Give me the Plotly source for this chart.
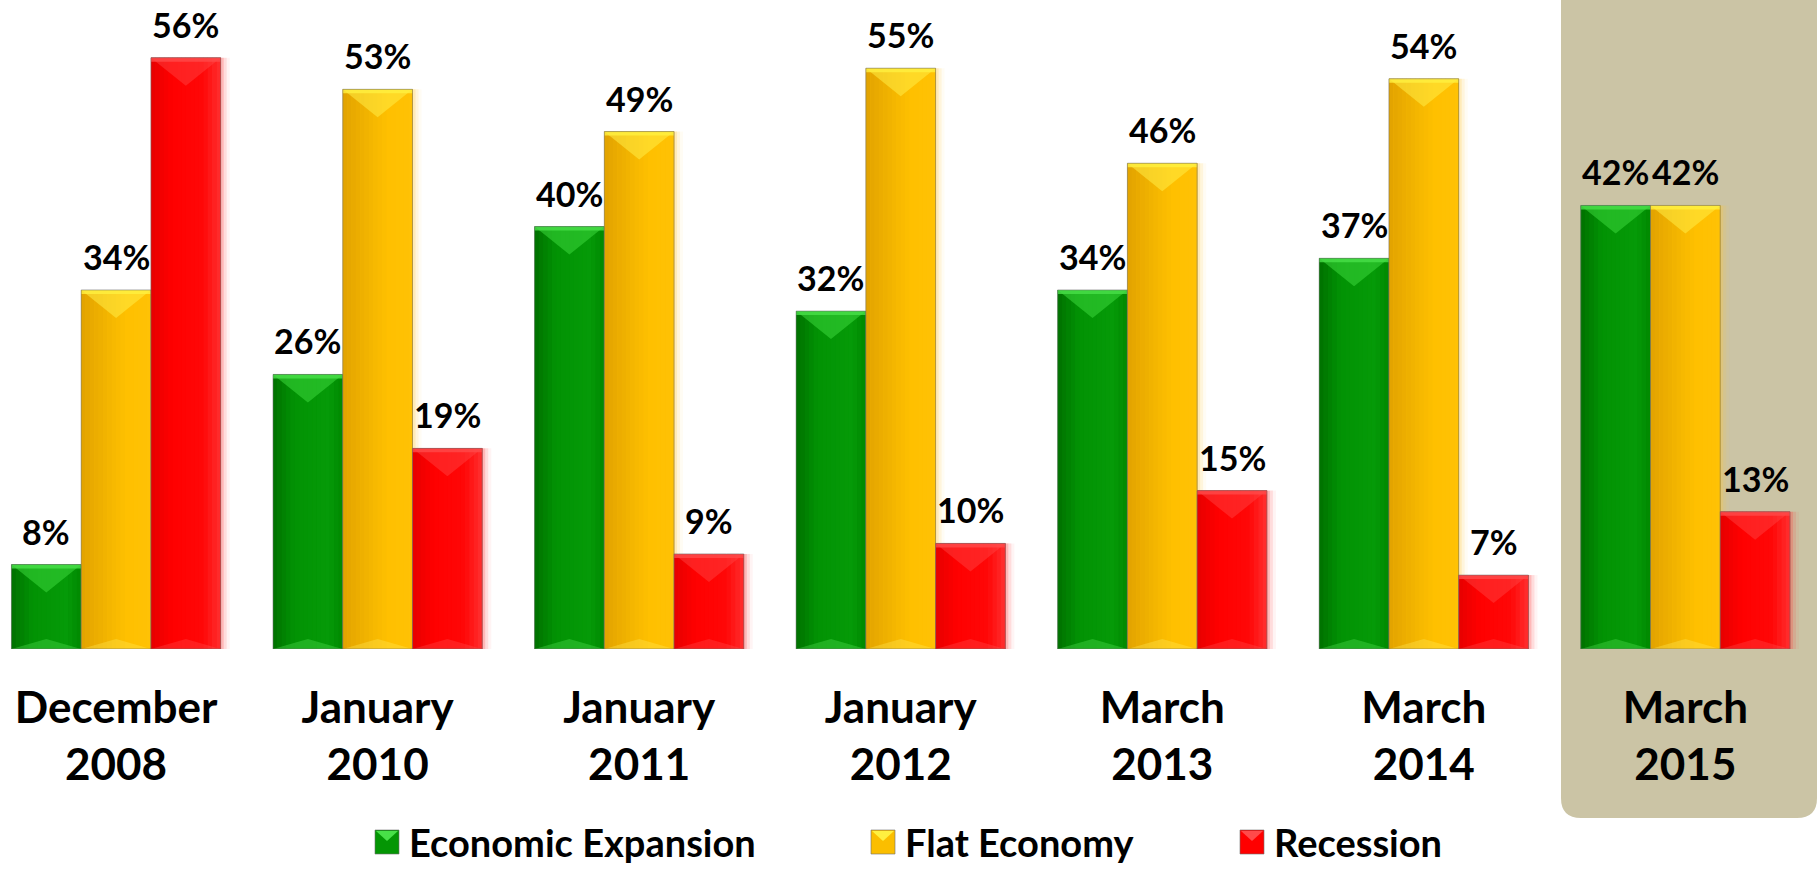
import plotly.graph_objects as go

# Survey results: outlook on the economy, by survey date
periods = ["December<br>2008", "January<br>2010", "January<br>2011", "January<br>2012",
           "March<br>2013", "March<br>2014", "March<br>2015"]
expansion = [8, 26, 40, 32, 34, 37, 42]
flat = [34, 53, 49, 55, 46, 54, 42]
recession = [56, 19, 9, 10, 15, 7, 13]
series_names = ["Economic Expansion", "Flat Economy", "Recession"]

W, H = 1820, 869
BASE_PX = 649            # pixel row of the zero line
PX_PER_PCT = 10.56
PX_PER_CAT = 261.55
X0 = -116.07 / PX_PER_CAT
X_RANGE = [X0, X0 + W / PX_PER_CAT]
Y_RANGE = [0, BASE_PX / PX_PER_PCT]

BAR_W = 0.8 / 3
OFFSETS = [-0.4, -0.4 + BAR_W, -0.4 + 2 * BAR_W]

FONT = "Lato, 'Open Sans', sans-serif"

# colour profile across each bar (position 0..1 left to right)
profiles = [
    [(0.0, (0, 112, 0)), (0.3, (2, 146, 4)), (0.8, (5, 154, 8)), (1.0, (0, 136, 0))],
    [(0.0, (226, 162, 0)), (0.45, (246, 184, 0)), (0.65, (255, 192, 0)), (1.0, (255, 194, 6))],
    [(0.0, (230, 0, 0)), (0.3, (255, 0, 0)), (0.75, (255, 8, 8)), (1.0, (255, 48, 48))],
]
base_colors = ["#049604", "#FBBE00", "#FF0000"]
top_band = ["#48E048", "#FFF040", "#FF4A4A"]
top_tri = ["rgba(60,215,60,0.55)", "rgba(255,236,70,0.55)", "rgba(255,70,70,0.45)"]
bot_band = ["rgba(90,230,90,0.7)", "rgba(255,235,90,0.7)", "rgba(255,90,90,0.6)"]
glow = ["rgba(0,150,0,{a})", "rgba(255,200,60,{a})", "rgba(255,60,60,{a})"]


def interp(profile, t):
    for (p0, c0), (p1, c1) in zip(profile, profile[1:]):
        if p0 <= t <= p1:
            f = (t - p0) / (p1 - p0) if p1 > p0 else 0
            return "rgb({},{},{})".format(*[round(a + (b - a) * f) for a, b in zip(c0, c1)])
    return "rgb({},{},{})".format(*profile[-1][1])


fig = go.Figure()
all_values = [expansion, flat, recession]

for s, (name, vals) in enumerate(zip(series_names, all_values)):
    fig.add_trace(go.Bar(
        x=list(range(len(periods))), y=vals, name=name,
        width=BAR_W, offset=OFFSETS[s],
        marker=dict(color=base_colors[s], line=dict(width=0)),
        showlegend=False, hoverinfo="name+y",
    ))

shapes = []
# highlight panel behind the latest survey
px = lambda v: v / W
py = lambda v: (BASE_PX - v) / BASE_PX
bx0, bx1, by1, r = 1561, 1817, 818, 20
shapes.append(dict(
    type="path", xref="paper", yref="paper", layer="below", line=dict(width=0),
    fillcolor="#CBC4A5",
    path=(f"M {px(bx0)},{py(-10)} L {px(bx1)},{py(-10)} L {px(bx1)},{py(by1 - r)} "
          f"Q {px(bx1)},{py(by1)} {px(bx1 - r)},{py(by1)} L {px(bx0 + r)},{py(by1)} "
          f"Q {px(bx0)},{py(by1)} {px(bx0)},{py(by1 - r)} Z"),
))

NSTRIP = 16
dx_px = 1 / PX_PER_CAT
dy_px = 1 / PX_PER_PCT
for s, vals in enumerate(all_values):
    for i, v in enumerate(vals):
        x0 = i + OFFSETS[s]
        x1 = x0 + BAR_W
        xc = (x0 + x1) / 2
        # soft glow on the right side
        for k, a in enumerate([0.22, 0.13, 0.06]):
            shapes.append(dict(type="rect", xref="x", yref="y", layer="below",
                               x0=x1, x1=x1 + (3 + 3 * k) * dx_px, y0=0, y1=v,
                               fillcolor=glow[s].format(a=a), line=dict(width=0)))
        # horizontal shading
        for k in range(NSTRIP):
            t = (k + 0.5) / NSTRIP
            shapes.append(dict(type="rect", xref="x", yref="y",
                               x0=x0 + BAR_W * k / NSTRIP,
                               x1=x0 + BAR_W * (k + 1) / NSTRIP + 0.3 * dx_px,
                               y0=0, y1=v, fillcolor=interp(profiles[s], t),
                               line=dict(width=0)))
        depth = min(28 * dy_px, v / 2)
        shapes.append(dict(type="path", xref="x", yref="y", line=dict(width=0),
                           fillcolor=top_tri[s],
                           path=f"M {x0},{v} L {x1},{v} L {xc},{v - depth} Z"))
        shapes.append(dict(type="rect", xref="x", yref="y", line=dict(width=0),
                           x0=x0, x1=x1, y0=v - 4 * dy_px, y1=v, fillcolor=top_band[s],
                           opacity=0.8))
        bdepth = min(10 * dy_px, v / 4)
        shapes.append(dict(type="path", xref="x", yref="y", line=dict(width=0),
                           fillcolor=bot_band[s], opacity=0.5,
                           path=f"M {x0},0 L {x1},0 L {xc},{bdepth} Z"))
        shapes.append(dict(type="rect", xref="x", yref="y",
                           x0=x0, x1=x1, y0=0, y1=v, fillcolor="rgba(0,0,0,0)",
                           line=dict(color="rgba(110,110,110,0.55)", width=1)))

annotations = []
for s, vals in enumerate(all_values):
    for i, v in enumerate(vals):
        annotations.append(dict(
            x=i + OFFSETS[s] + BAR_W / 2, y=v, xref="x", yref="y",
            text=f"{v}%", showarrow=False, yanchor="bottom", yshift=11,
            font=dict(family=FONT, size=34, color="black", weight="bold"),
        ))

# legend drawn as swatches with labels
legend_items = [(375, series_names[0]), (871, series_names[1]), (1240, series_names[2])]
SW = 24
LEG_MID = 842
ly0, ly1 = LEG_MID - 12, LEG_MID + 12
for s, (lx, label) in enumerate(legend_items):
    shapes.append(dict(type="rect", xref="paper", yref="paper",
                       x0=px(lx), x1=px(lx + SW), y0=py(ly1), y1=py(ly0),
                       fillcolor=base_colors[s], line=dict(color="rgba(110,110,110,0.6)", width=1)))
    shapes.append(dict(type="path", xref="paper", yref="paper", line=dict(width=0),
                       fillcolor=top_band[s],
                       path=(f"M {px(lx + 1)},{py(ly0 + 1)} L {px(lx + SW - 1)},{py(ly0 + 1)} "
                             f"L {px(lx + SW / 2)},{py(ly0 + 11)} Z")))
    annotations.append(dict(
        x=px(lx + SW + 9), y=py(LEG_MID), xref="paper", yref="paper",
        text=label, showarrow=False, xanchor="left", yanchor="middle",
        font=dict(family=FONT, size=38, color="black", weight="bold"),
        borderpad=0,
    ))

fig.update_layout(
    width=W, height=H,
    margin=dict(l=0, r=0, t=0, b=H - BASE_PX, pad=0),
    paper_bgcolor="white", plot_bgcolor="rgba(0,0,0,0)",
    barmode="group", bargap=0.2, bargroupgap=0,
    shapes=shapes, annotations=annotations,
    showlegend=False,
    xaxis=dict(range=X_RANGE, tickmode="array", tickvals=list(range(len(periods))),
               ticktext=periods, showgrid=False, zeroline=False, showline=False,
               ticks="", ticklabelstandoff=29,
               tickfont=dict(family=FONT, size=44, color="black", weight="bold"),
               fixedrange=True),
    yaxis=dict(range=Y_RANGE, visible=False, showgrid=False, zeroline=False,
               fixedrange=True),
)

fig.write_html("out.html", config={"displayModeBar": False})
